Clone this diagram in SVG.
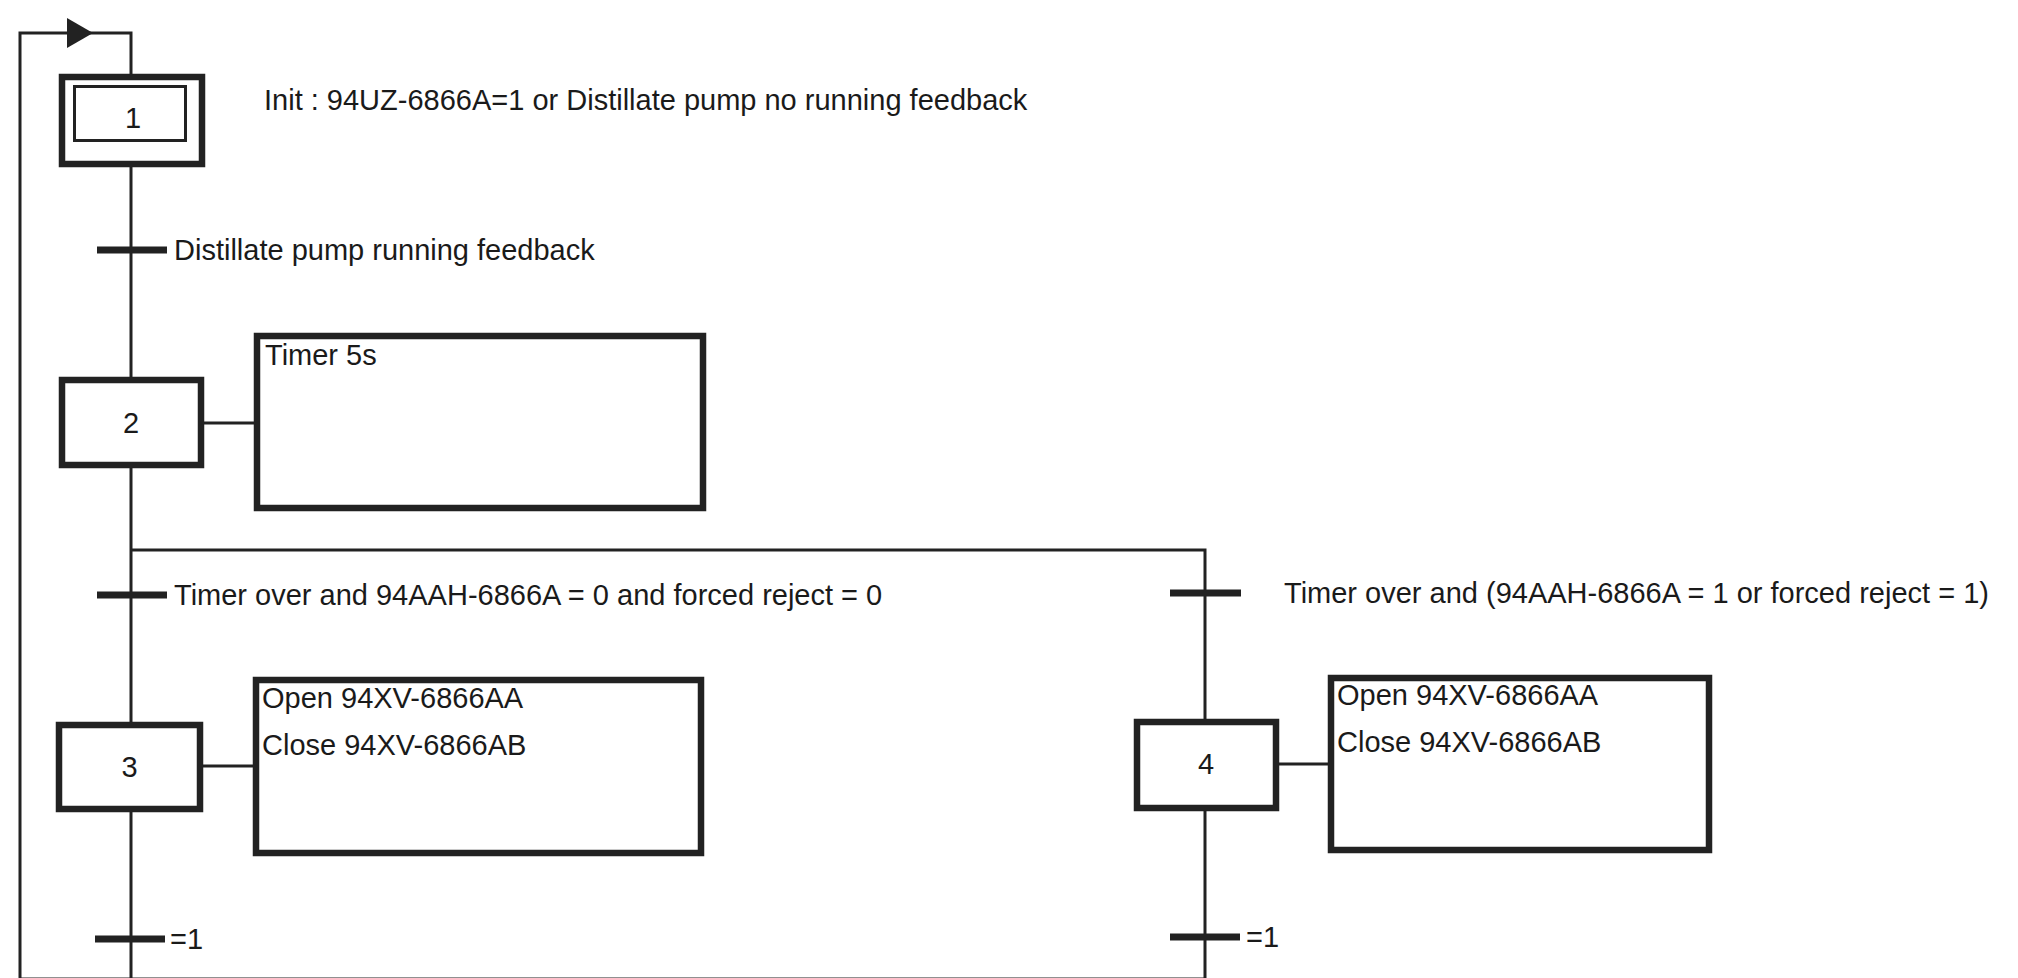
<svg xmlns="http://www.w3.org/2000/svg" width="2018" height="978" viewBox="0 0 2018 978">
<style>
  .ln{fill:none;stroke:#222;stroke-width:3}
  .bar{stroke:#222;stroke-width:7}
  .box{fill:#fff;stroke:#222;stroke-width:6.5}
  .inner{fill:#fff;stroke:#222;stroke-width:3}
  .t{font-family:"Liberation Sans",Arial,sans-serif;font-size:29px;fill:#1a1a1a}
  .num{font-family:"Liberation Sans",Arial,sans-serif;font-size:29px;fill:#1a1a1a;text-anchor:middle}
</style>
<rect width="2018" height="978" fill="#fff"/>
<g id="connectors">
  <path class="ln" d="M131,978 V33 H20 V978"/>
  <polygon points="93,33 67,18 67,48" fill="#222"/>
  <path class="ln" d="M131,550 H1205 V978"/>
  <line class="ln" x1="20" y1="979" x2="1205" y2="979"/>
  <line class="ln" x1="204" y1="423" x2="255" y2="423"/>
  <line class="ln" x1="203" y1="766" x2="254" y2="766"/>
  <line class="ln" x1="1279" y1="764" x2="1330" y2="764"/>
</g>
<g id="t1">
  <line class="bar" x1="97" y1="250" x2="167" y2="250"/>
  <text class="t" x="174" y="260">Distillate pump running feedback</text>
</g>
<g id="t2a">
  <line class="bar" x1="97" y1="595" x2="167" y2="595"/>
  <text class="t" x="174" y="605">Timer over and 94AAH-6866A = 0 and forced reject = 0</text>
</g>
<g id="t2b">
  <line class="bar" x1="1170" y1="593" x2="1241" y2="593"/>
  <text class="t" x="1284" y="603">Timer over and (94AAH-6866A = 1 or forced reject = 1)</text>
</g>
<g id="t3a">
  <line class="bar" x1="95" y1="939" x2="165" y2="939"/>
  <text class="t" x="170" y="949">=1</text>
</g>
<g id="t3b">
  <line class="bar" x1="1170" y1="937" x2="1240" y2="937"/>
  <text class="t" x="1246" y="947">=1</text>
</g>
<g id="step1">
  <rect class="box" x="62" y="77" width="140" height="87"/>
  <rect class="inner" x="74.5" y="86.5" width="111" height="54"/>
  <text class="num" x="133" y="128">1</text>
  <text class="t" x="264" y="110">Init : 94UZ-6866A=1 or Distillate pump no running feedback</text>
</g>
<g id="step2">
  <rect class="box" x="62" y="380" width="139" height="85"/>
  <text class="num" x="131" y="433">2</text>
</g>
<g id="action2">
  <rect class="box" x="257" y="336" width="446" height="172"/>
  <text class="t" x="265" y="365">Timer 5s</text>
</g>
<g id="step3">
  <rect class="box" x="59" y="725" width="141" height="84"/>
  <text class="num" x="129.5" y="777">3</text>
</g>
<g id="action3">
  <rect class="box" x="256" y="680" width="445" height="173"/>
  <text class="t" x="262" y="708">Open 94XV-6866AA</text>
  <text class="t" x="262" y="755">Close 94XV-6866AB</text>
</g>
<g id="step4">
  <rect class="box" x="1137" y="722" width="139" height="86"/>
  <text class="num" x="1206" y="774">4</text>
</g>
<g id="action4">
  <rect class="box" x="1331" y="678" width="378" height="172"/>
  <text class="t" x="1337" y="705">Open 94XV-6866AA</text>
  <text class="t" x="1337" y="752">Close 94XV-6866AB</text>
</g>
</svg>
